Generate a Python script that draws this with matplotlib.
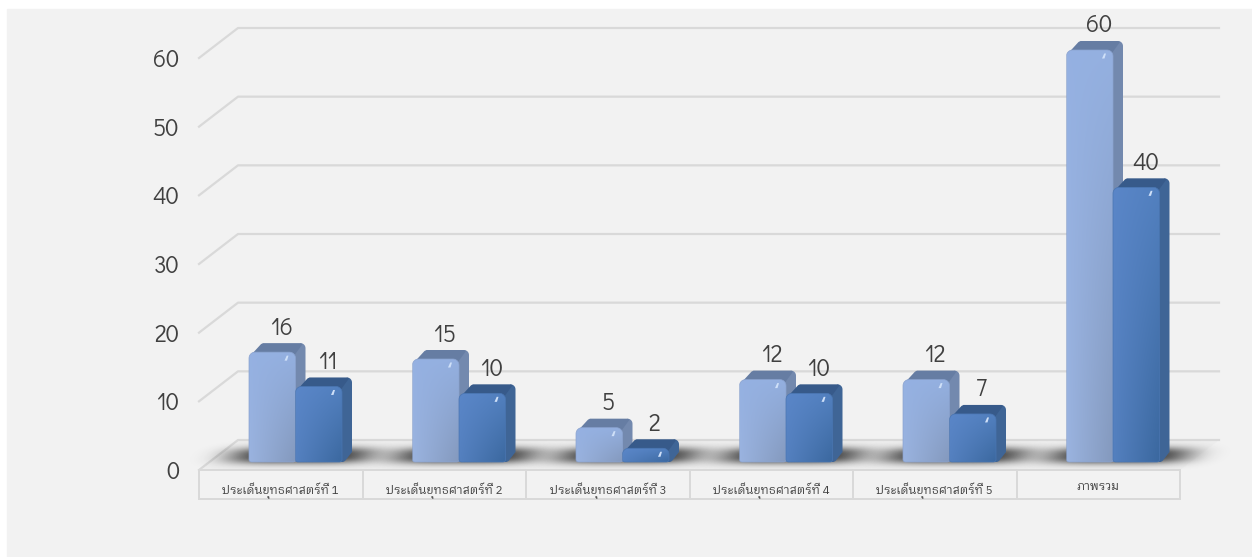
import numpy as np
import matplotlib
matplotlib.use("Agg")
import matplotlib.pyplot as plt
from matplotlib.colors import to_rgb
from matplotlib.patches import Polygon, Rectangle

categories = ["ประเด็นยุทธศาสตร์ที่ 1", "ประเด็นยุทธศาสตร์ที่ 2", "ประเด็นยุทธศาสตร์ที่ 3",
              "ประเด็นยุทธศาสตร์ที่ 4", "ประเด็นยุทธศาสตร์ที่ 5", "ภาพรวม"]
series_a = [16, 15, 5, 12, 12, 60]
series_b = [11, 10, 2, 10, 7, 40]
y_ticks = [0, 10, 20, 30, 40, 50, 60]

TEXT = "#404040"
GRID = "#d9d9d9"
NUM_FONT = ["Didact Gothic", "Lato", "DejaVu Sans"]
THAI_FONT = ["IBM Plex Sans Thai Looped", "IBM Plex Sans Thai", "Noto Sans", "DejaVu Sans"]

# corners of the front face: top left, top right, bottom left, bottom right
STYLE_A = dict(front=["#95b1e2", "#94b0e0", "#9ab3df", "#8499bd"], side="#7389ae", top="#667da3", edge="#8ba3cf")
STYLE_B = dict(front=["#5a86c8", "#5280bf", "#5480bf", "#3b689f"], side="#3f6596", top="#375a8a", edge="#4a76b2")

fig = plt.figure(figsize=(12.52, 5.57), dpi=100, facecolor="white")
fig.add_artist(Rectangle((7 / 1252, 0), 1, 548 / 557, transform=fig.transFigure, color="#f2f2f2", zorder=-5))
ax = fig.add_axes([199 / 1252, 87 / 557, 981 / 1252, 412 / 557])
ax.patch.set_visible(False)

# one pixel in data units
PX = 6 / 981
PY = 60 / 412
BACK_X, BACK_Y = 39 * PX, 30 * PY      # depth of the floor
BAR_DX, BAR_DY = 10 * PX, 9 * PY       # depth of a bar
BASE = 8 * PY
BAR_W = 46.5 * PX
START = 50 * PX


def arc(cx, cy, r, a0):
    a = np.radians(np.linspace(a0, a0 + 90, 8))
    return np.column_stack([cx + r * PX * np.cos(a), cy + r * PY * np.sin(a)])


def rounded(x0, x1, y0, y1, r_top=6, r_bot=2.5):
    return np.vstack([
        arc(x1 - r_top * PX, y1 - r_top * PY, r_top, 0),
        arc(x0 + r_top * PX, y1 - r_top * PY, r_top, 90),
        arc(x0 + r_bot * PX, y0 + r_bot * PY, r_bot, 180),
        arc(x1 - r_bot * PX, y0 + r_bot * PY, r_bot, 270),
    ])


def draw_shadow(x0, x1, z):
    left, right = x0 - 60 * PX, x1 + 72 * PX
    bottom, top = BASE - 8 * PY, BASE + 22 * PY
    xx, yy = np.meshgrid(np.linspace(-1, 1, 300), np.linspace(1, -1, 48))
    u = xx - 0.09 * yy
    alpha = 0.88 * np.exp(-np.abs(u / 0.64) ** 4) * np.exp(-np.abs((yy + 0.03) / 0.56) ** 2.5)
    img = np.zeros(alpha.shape + (4,))
    img[..., :3] = to_rgb("#1c1c1c")
    img[..., 3] = alpha
    ax.imshow(img, extent=[left, right, bottom, top], aspect="auto", zorder=z, interpolation="bilinear",
              clip_on=False)


def draw_bar(x0, value, style, z):
    x1 = x0 + BAR_W
    y0, y1 = BASE, BASE + value
    back_top = y1 + BAR_DY
    # side face
    side = np.vstack([
        [[x1 - 1 * PX, y0], [x1 - 2 * PX, y1 - 2 * PY], [x1 + 5 * PX, back_top]],
        arc(x1 + BAR_DX - 5 * PX, back_top - 5 * PY, 5, 0)[::-1],
        [[x1 + BAR_DX, y0 + BAR_DY + 1 * PY], [x1 + 3 * PX, y0 + 1 * PY], [x1 + 1 * PX, y0]],
    ])
    ax.add_patch(Polygon(side, closed=True, fc=style["side"], ec="none", zorder=z, clip_on=False))
    # top face
    top = [[x0 + 1 * PX, y1 - 4 * PY], [x0 + 12 * PX, back_top - 1 * PY], [x0 + 14 * PX, back_top],
           [x1 + 5 * PX, back_top], [x1 + 7 * PX, back_top - 1 * PY], [x1 - 1 * PX, y1 - 3 * PY]]
    ax.add_patch(Polygon(top, closed=True, fc=style["top"], ec="none", zorder=z + 0.1, clip_on=False))
    # front face with its gradient
    patch = Polygon(rounded(x0, x1, y0, y1), closed=True, fc="none", ec=style["edge"], lw=0.5,
                    zorder=z + 0.3, clip_on=False)
    ax.add_patch(patch)
    corners = np.array([to_rgb(c) for c in style["front"]])
    t = np.linspace(0, 1, 32)[None, :, None]
    s = np.linspace(0, 1, 64)[:, None, None]
    img = (1 - s) * ((1 - t) * corners[0] + t * corners[1]) + s * ((1 - t) * corners[2] + t * corners[3])
    im = ax.imshow(img, extent=[x0, x1, y0, y1], aspect="auto", zorder=z + 0.2, interpolation="bilinear")
    im.set_clip_path(patch)
    im.set_clip_box(fig.bbox)
    # small slanted highlight near the top right corner
    gx, gy = x1 - 9 * PX, y1 - 6 * PY
    glint = [[gx - 2 * PX, gy - 2.5 * PY], [gx + 0.5 * PX, gy - 2.5 * PY], [gx + 2 * PX, gy + 2.5 * PY],
             [gx + 0.2 * PX, gy + 2.5 * PY]]
    ax.add_patch(Polygon(glint, closed=True, fc="#cfe0f8", ec="none", zorder=z + 0.4, clip_on=False))


# floor and back wall
ax.add_patch(Polygon([[0, 0], [BACK_X, BACK_Y], [6 + BACK_X, BACK_Y], [6, 0]], closed=True,
                     fc="#eeeeee", ec="none", zorder=0, clip_on=False))
for v in y_ticks:
    ax.plot([0, BACK_X, 6 + BACK_X], [v, v + BACK_Y, v + BACK_Y], color=GRID, lw=1.6, clip_on=False,
            solid_joinstyle="round", zorder=0.5)

# category table under the floor
table_h = 29 * PY
ax.plot([0, 6], [-table_h, -table_h], color=GRID, lw=1.4, clip_on=False, zorder=0.6)
for i in range(7):
    ax.plot([i, i], [0, -table_h], color=GRID, lw=1.4, clip_on=False, zorder=0.6)

z = 1
for i in range(len(categories)):
    xa = i + START
    xb = xa + BAR_W
    draw_shadow(xa, xb + BAR_W, z)
    draw_bar(xa, series_a[i], STYLE_A, z + 1)
    draw_bar(xb, series_b[i], STYLE_B, z + 2)
    for x, v in [(xa, series_a[i]), (xb, series_b[i])]:
        ax.text(x + BAR_W / 2 + 9 * PX, BASE + v + 24 * PY, str(v), ha="center", va="center",
                fontsize=17, color=TEXT, family=NUM_FONT, zorder=40, clip_on=False)
    z += 4

# front edge of the floor stays over the shadows
ax.plot([0, 6], [0, 0], color=GRID, lw=1.4, clip_on=False, zorder=z)

ax.set_xlim(0, 6)
ax.set_ylim(0, 60)
ax.set_yticks(y_ticks)
ax.set_xticks(np.arange(len(categories)) + 0.5)
ax.set_xticklabels(categories, fontsize=8.4, color=TEXT, family=THAI_FONT)
for lab in ax.get_yticklabels():
    lab.set_fontsize(17)
    lab.set_color(TEXT)
    lab.set_family(NUM_FONT)
ax.tick_params(axis="y", length=0, pad=14)
ax.tick_params(axis="x", length=0, pad=9)
for sp in ax.spines.values():
    sp.set_visible(False)

fig.savefig("out.png", dpi=100, facecolor=fig.get_facecolor())
